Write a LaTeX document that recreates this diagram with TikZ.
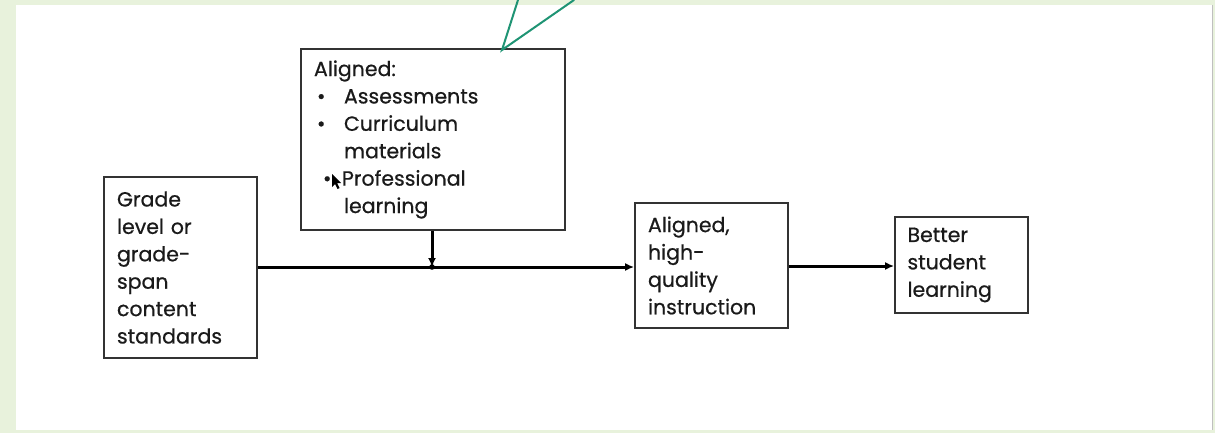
\documentclass[tikz,border=0pt]{standalone}
\usepackage{fontspec}
\setmainfont{Poppins}[FakeBold=0.6]
\usetikzlibrary{arrows.meta,calc}

\definecolor{framegreen}{HTML}{E8F2DC}
\definecolor{callout}{HTML}{1F9474}
\definecolor{boxline}{HTML}{333333}
\definecolor{ink}{HTML}{1A1A1A}

\newcommand{\itembul}[1]{\makebox[30pt][l]{\hspace{3pt}\textbullet}#1}
\newcommand{\itemcont}[1]{\hspace*{30pt}#1}

\tikzset{
  stagebox/.style={draw=boxline, line width=1.8pt, fill=white, rectangle,
    inner xsep=13pt, inner ysep=0pt, align=left, text=ink,
    font=\fontsize{20.5}{27.4}\selectfont},
  flow/.style={draw=black, line width=3pt,
    -{Latex[length=9pt,width=8pt]}},
  pointer/.style={draw=callout, line width=2pt, line cap=round}
}

\begin{document}
\begin{tikzpicture}[x=1pt,y=-1pt]
  % frame and white panel
  \fill[framegreen] (0,0) rectangle (1215,433);
  \fill[white] (16,5) rectangle (1212,430);
  \draw[black!25, line width=0.8pt] (1212.5,5) -- (1212.5,430);
  \useasboundingbox (0,0) rectangle (1215,433);

  % stages
  \node[stagebox, minimum width=153, minimum height=181, text width=127]
    (grade) at (180.5,267.5)
    {Grade\\level or\\grade-\\span\\content\\standards};

  \node[stagebox, minimum width=264, minimum height=181, text width=238]
    (aligned) at (433,139.5)
    {Aligned:\\
     \itembul{Assessments}\\
     \itembul{Curriculum}\\
     \itemcont{materials}\\
     \makebox[28pt][l]{\hspace{9pt}\textbullet}Professional\\
     \itemcont{learning}};

  \node[stagebox, minimum width=153, minimum height=125, text width=127]
    (ahq) at (711.5,265.5)
    {Aligned,\\high-\\quality\\instruction};

  \node[stagebox, minimum width=133, minimum height=96, text width=108,
        inner xsep=12.5pt]
    (better) at (961.5,265)
    {Better\\student\\learning};

  % mouse pointer resting on the last bullet
  \fill[black] (332,174) -- (332,187) -- (335,184) -- (337.5,189)
    -- (339.5,188) -- (337,183) -- (341,183) -- cycle;

  % flow of influence
  \coordinate (j) at (432,267);
  \draw[flow] (grade.east |- j) -- (ahq.west |- j);
  \draw[flow] (aligned.south -| j) -- (j);
  \fill[black] (j) circle (2.8pt);
  \coordinate (k) at (0,266);
  \draw[flow] (ahq.east |- k) -- (better.west |- k);

  % callout pointer entering from above
  \coordinate (tip) at (502,50);
  \coordinate (cl) at (518,0);
  \coordinate (cr) at (574,0);
  \draw[pointer] (cl) -- (tip) -- (cr);
\end{tikzpicture}
\end{document}
